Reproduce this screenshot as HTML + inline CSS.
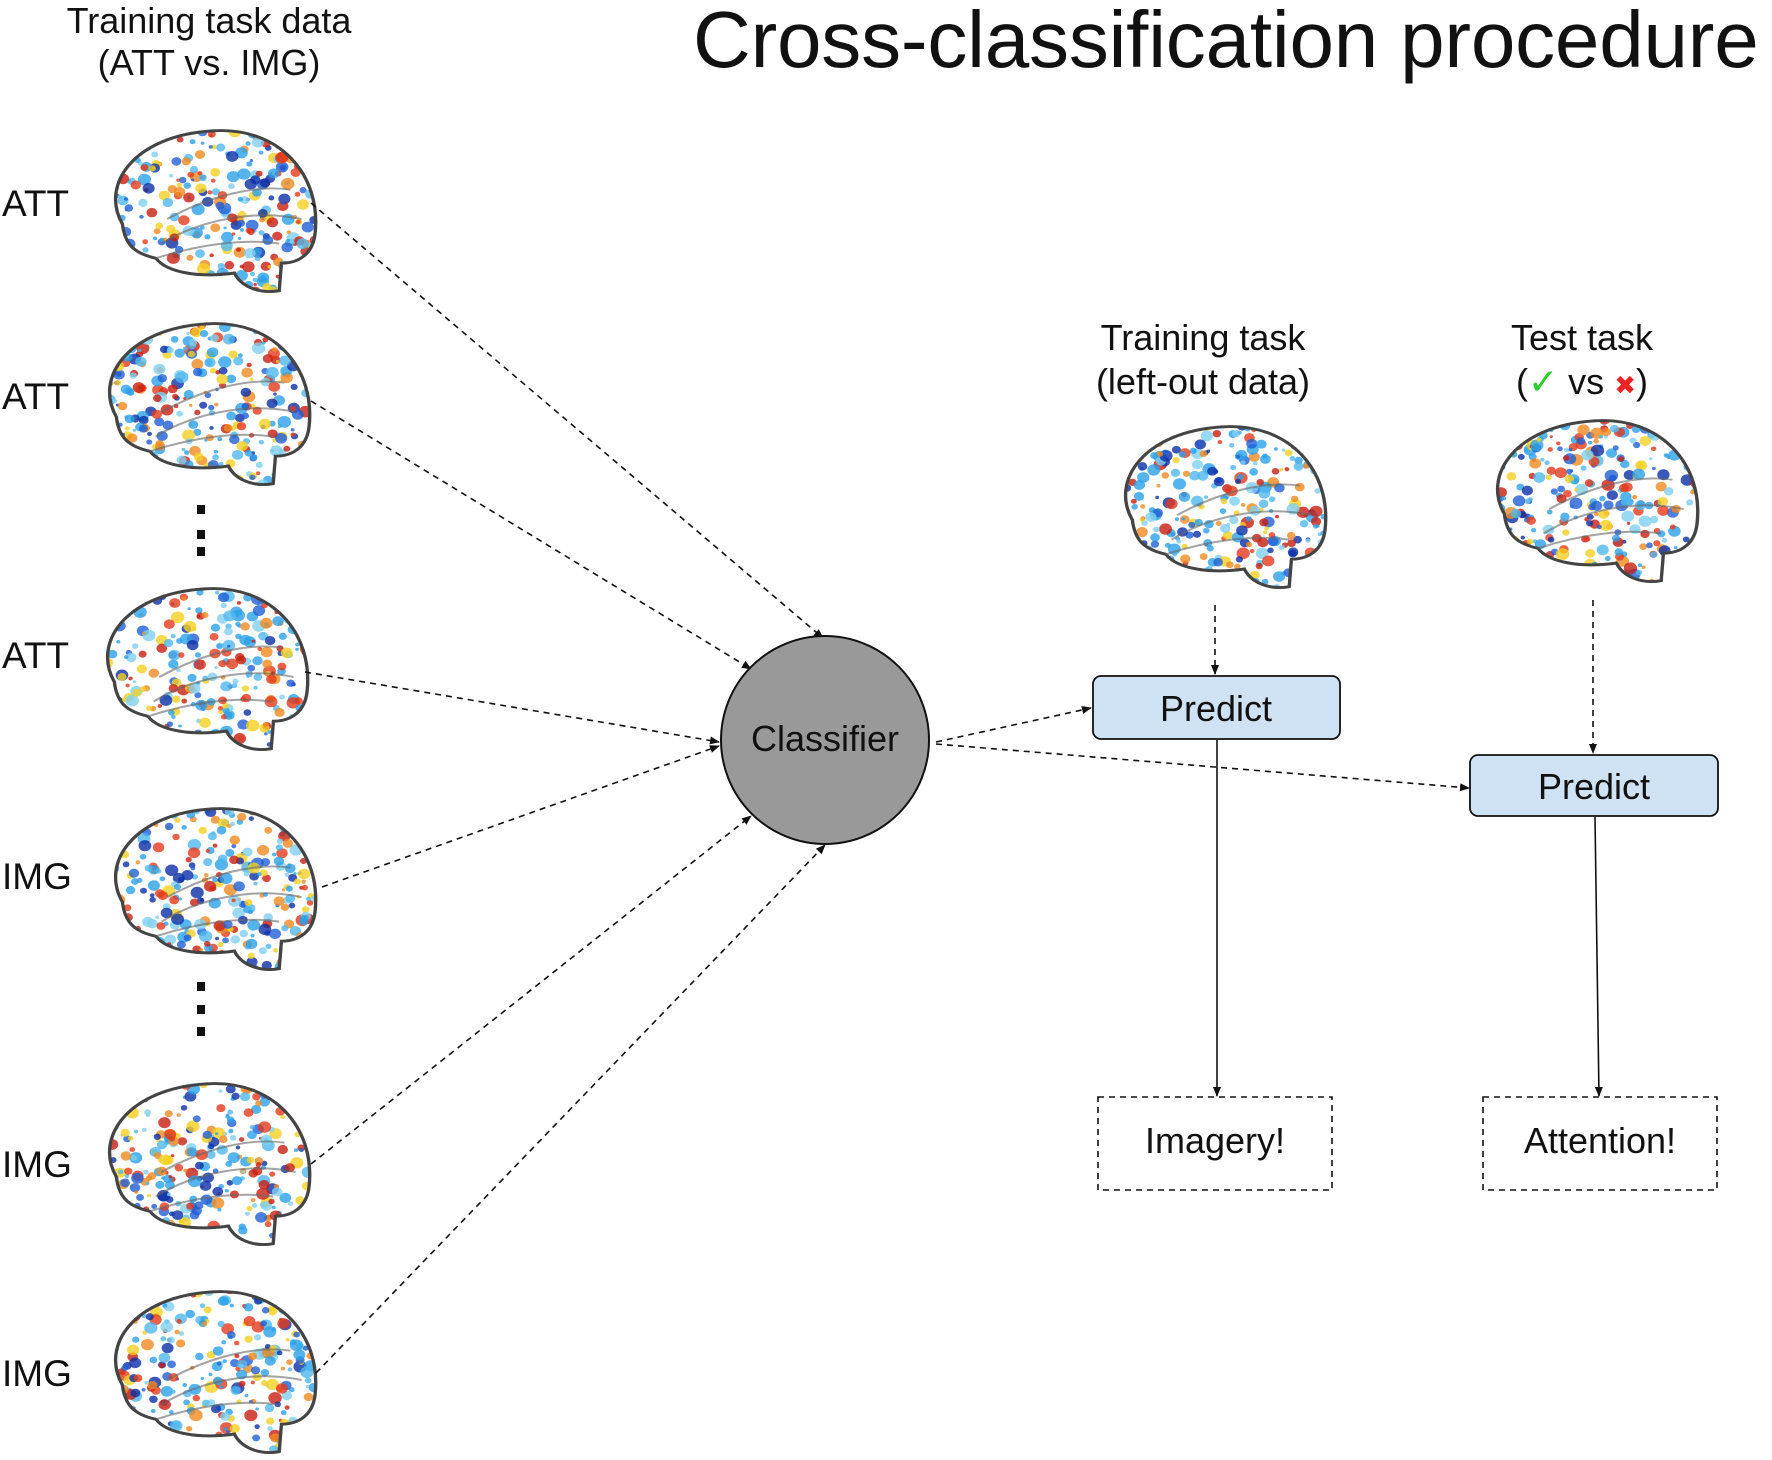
<!DOCTYPE html>
<html><head><meta charset="utf-8">
<style>
body{margin:0;background:#fff;width:1772px;height:1460px;overflow:hidden;position:relative;font-family:"Liberation Sans",sans-serif;}
.t{position:absolute;white-space:nowrap;color:#111;}
</style></head><body>
<svg id="s" width="1772" height="1460" style="position:absolute;left:0;top:0">
<defs>
<marker id="a" markerWidth="10" markerHeight="10" refX="9" refY="5" orient="auto" markerUnits="userSpaceOnUse"><path d="M0,1 L10,5 L0,9 Z" fill="#111"/></marker>
<clipPath id="bc"><path id="bp" d="M20,100 C0,60 30,10 100,5 C160,0 198,50 192,110 C190,130 178,140 162,140 L160,168 C140,172 125,162 120,150 C90,155 60,150 50,135 C30,130 22,120 20,100 Z"/></clipPath>
</defs>
<g id="brains"></g>
<g stroke="#111" stroke-width="1.6" fill="none" stroke-dasharray="6,5" marker-end="url(#a)">
<line x1="311" y1="203" x2="823" y2="638"/>
<line x1="311" y1="401" x2="751" y2="669"/>
<line x1="305" y1="672" x2="719" y2="742"/>
<line x1="322" y1="887" x2="719" y2="746"/>
<line x1="311" y1="1164" x2="751" y2="816"/>
<line x1="316" y1="1373" x2="825" y2="845"/>
<line x1="936" y1="742" x2="1091" y2="708"/>
<line x1="936" y1="744" x2="1469" y2="788"/>
<line x1="1215" y1="605" x2="1215" y2="674"/>
<line x1="1593" y1="600" x2="1593" y2="753"/>
</g>
<g stroke="#111" stroke-width="1.6" fill="none" marker-end="url(#a)">
<line x1="1217" y1="740" x2="1217" y2="1096"/>
<line x1="1595" y1="817" x2="1599" y2="1096"/>
</g>
<circle cx="825" cy="740" r="104" fill="#999" stroke="#111" stroke-width="2"/>
<rect x="1093" y="676" width="247" height="63" rx="8" fill="#cfe2f3" stroke="#111" stroke-width="1.8"/>
<rect x="1470" y="755" width="248" height="61" rx="8" fill="#cfe2f3" stroke="#111" stroke-width="1.8"/>
<rect x="1098" y="1097" width="234" height="93" fill="none" stroke="#111" stroke-width="1.6" stroke-dasharray="6,5"/>
<rect x="1483" y="1097" width="234" height="93" fill="none" stroke="#111" stroke-width="1.6" stroke-dasharray="6,5"/>
<g fill="#111"><rect x="197" y="505" width="8" height="9"/><rect x="197" y="530" width="8" height="9"/><rect x="197" y="547" width="8" height="9"/>
<rect x="197" y="982" width="8" height="9"/><rect x="197" y="1005" width="8" height="9"/><rect x="197" y="1027" width="8" height="9"/></g>
</svg>
<div class="t" style="left:693px;top:-6px;font-size:80px;letter-spacing:-0.2px">Cross-classification procedure</div>
<div class="t" style="left:209px;top:0px;font-size:36px;text-align:center;transform:translateX(-50%);line-height:42px">Training task data<br>(ATT vs. IMG)</div>
<div class="t" style="left:2px;top:183px;font-size:37px">ATT</div>
<div class="t" style="left:2px;top:376px;font-size:37px">ATT</div>
<div class="t" style="left:2px;top:635px;font-size:37px">ATT</div>
<div class="t" style="left:2px;top:856px;font-size:37px">IMG</div>
<div class="t" style="left:2px;top:1144px;font-size:37px">IMG</div>
<div class="t" style="left:2px;top:1353px;font-size:37px">IMG</div>
<div class="t" style="left:1203px;top:316px;font-size:36px;text-align:center;transform:translateX(-50%);line-height:44px">Training task<br>(left-out data)</div>
<div class="t" style="left:1582px;top:316px;font-size:36px;text-align:center;transform:translateX(-50%);line-height:44px">Test task<br>(<span style="color:#2ecc2e;font-family:'DejaVu Sans'">✓</span> vs <span style="color:#e22;font-family:'DejaVu Sans';font-size:26px">✖</span>)</div>
<div class="t" style="left:825px;top:718px;font-size:36px;transform:translateX(-50%)">Classifier</div>
<div class="t" style="left:1216px;top:688px;font-size:36px;transform:translateX(-50%)">Predict</div>
<div class="t" style="left:1594px;top:766px;font-size:36px;transform:translateX(-50%)">Predict</div>
<div class="t" style="left:1215px;top:1120px;font-size:36px;transform:translateX(-50%)">Imagery!</div>
<div class="t" style="left:1600px;top:1120px;font-size:36px;transform:translateX(-50%)">Attention!</div>
<script>
var C=[[212,212],[206,405],[204,670],[212,890],[206,1165],[212,1373],[1222,508],[1594,502]];
var seed=7;function r(){seed=(seed*16807)%2147483647;return seed/2147483647;}
var cols=["#1f5fd6","#2aa0e8","#4fb8ee","#7fd0f0","#e23a1a","#f08a20","#f5d020","#0b2fa8","#c81e10","#2aa0e8"];
var g=document.getElementById("brains"),h="";
C.forEach(function(c){
 var x=c[0]-112,y=c[1]-86;
 h+='<g transform="translate('+x+','+y+') scale(1.12,0.98)"><g clip-path="url(#bc)">';
 for(var i=0;i<360;i++){h+='<circle cx="'+(r()*200).toFixed(1)+'" cy="'+(r()*175).toFixed(1)+'" r="'+(1.5+r()*4.5).toFixed(1)+'" fill="'+cols[Math.floor(r()*cols.length)]+'" opacity="0.8"/>';}
 h+='</g><use href="#bp" fill="none" stroke="#444" stroke-width="3"/>';
 h+='<path d="M55,120 C90,95 140,85 180,95 M60,95 C100,70 140,60 170,65 M50,135 C90,120 130,115 160,120" fill="none" stroke="#666" stroke-width="2" opacity="0.6"/></g>';
});
g.innerHTML=h;
</script>
</body></html>
